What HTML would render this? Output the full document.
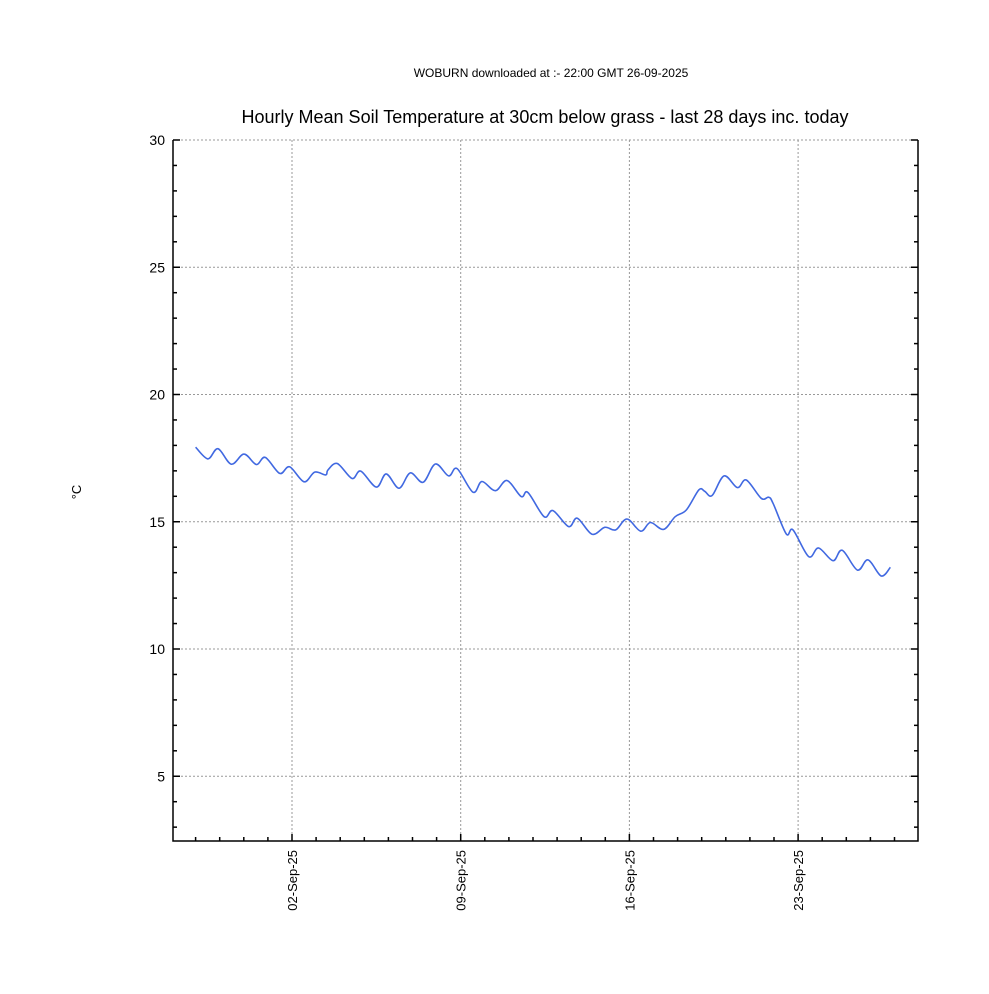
<!DOCTYPE html>
<html><head><meta charset="utf-8"><style>
body{margin:0;background:#fff;width:989px;height:989px;overflow:hidden}
svg{font-family:"Liberation Sans",sans-serif}
</style></head><body>
<svg id="chart" width="989" height="989" viewBox="0 0 989 989">
<text x="551" y="77" font-size="12" text-anchor="middle">WOBURN downloaded at :- 22:00 GMT 26-09-2025</text>
<text x="545" y="123" font-size="18" text-anchor="middle">Hourly Mean Soil Temperature at 30cm below grass - last 28 days inc. today</text>
<text x="0" y="0" font-size="13" text-anchor="middle" transform="translate(81,492) rotate(-90)">°C</text>
<g id="grid"></g>
<g id="axes"></g>
<path id="line" fill="none" stroke="#4169e1" stroke-width="1.6"/>
</svg>
<script>
// day offsets from 29-Aug-25 00:00
const times=[0,0.51,0.93,1.48,2.01,2.52,2.89,3.49,3.90,4.50,4.94,5.40,5.49,5.88,6.49,6.85,7.50,7.91,8.44,8.91,9.44,9.95,10.50,10.85,11.51,11.88,12.44,12.92,13.51,13.79,14.46,14.83,15.48,15.84,16.45,16.98,17.43,17.90,18.47,18.87,19.42,19.90,20.36,20.88,21.12,21.43,21.93,22.48,22.85,23.47,23.78,23.96,24.51,24.79,25.44,25.85,26.45,26.83,27.46,27.90,28.45,28.83];
const temps=[17.93,17.47,17.87,17.26,17.66,17.25,17.53,16.90,17.16,16.57,16.95,16.84,17.03,17.29,16.70,16.99,16.36,16.88,16.32,16.92,16.55,17.27,16.80,17.09,16.16,16.58,16.22,16.62,15.99,16.15,15.20,15.44,14.81,15.14,14.51,14.78,14.68,15.11,14.63,14.97,14.70,15.20,15.46,16.25,16.20,16.03,16.80,16.34,16.64,15.92,15.96,15.73,14.52,14.68,13.63,13.97,13.47,13.88,13.10,13.50,12.87,13.21];
const yTicks=[5,10,15,20,25,30];
const xTickDays=[4,11,18,25];
const xTickLabels=["02-Sep-25","09-Sep-25","16-Sep-25","23-Sep-25"];

const L=173,R=918,T=140,B=841;
const X=d=>292+(d-4)*24.1;
const Y=v=>140+(30-v)*25.45;
const NS="http://www.w3.org/2000/svg";
function mk(tag,attrs,parent){const e=document.createElementNS(NS,tag);for(const k in attrs)e.setAttribute(k,attrs[k]);parent.appendChild(e);return e;}
const grid=document.getElementById('grid'),axes=document.getElementById('axes');
yTicks.forEach(v=>{
  const g=mk('line',{x1:L,x2:R,y1:Y(v),y2:Y(v),stroke:'#999','stroke-dasharray':'2,2','stroke-width':1},grid);
  
  
  const t=mk('text',{x:L-8,y:Y(v)+5,'font-size':14,'text-anchor':'end'},axes);
  t.textContent=v;
  
  
});
xTickDays.forEach((d,i)=>{
  const g=mk('line',{x1:X(d),x2:X(d),y1:T,y2:B,stroke:'#999','stroke-dasharray':'2,2','stroke-width':1},grid);
  
  
  const t=mk('text',{x:0,y:0,'font-size':13,'text-anchor':'end',transform:`translate(${X(d)+5},${B+9}) rotate(-90)`},axes);
  t.textContent=xTickLabels[i];
  
  
});
// minor ticks
for(let v=3;v<=30;v++){
  const len=(v%5===0)?7:4;
  mk('line',{x1:L,x2:L+len,y1:Y(v),y2:Y(v),stroke:'#000','stroke-width':1.5},axes);
  mk('line',{x1:R,x2:R-len,y1:Y(v),y2:Y(v),stroke:'#000','stroke-width':1.5},axes);
}
for(let d=0;d<=29;d++){
  const len=((d-4)%7===0)?7:4;
  mk('line',{x1:X(d),x2:X(d),y1:B,y2:B-len,stroke:'#000','stroke-width':1.5},axes);
}
const fr=mk('path',{d:`M${L},${T}V${B}H${R}V${T}`,fill:'none',stroke:'#000','stroke-width':1.5},axes);


// catmull-rom smoothing
const pts=times.map((t,i)=>[X(t),Y(temps[i])]);
let d=`M${pts[0][0]},${pts[0][1]}`;
for(let i=0;i<pts.length-1;i++){
  const p0=pts[Math.max(0,i-1)],p1=pts[i],p2=pts[i+1],p3=pts[Math.min(pts.length-1,i+2)];
  const c1=[p1[0]+(p2[0]-p0[0])/6,p1[1]+(p2[1]-p0[1])/6];
  const c2=[p2[0]-(p3[0]-p1[0])/6,p2[1]-(p3[1]-p1[1])/6];
  d+=`C${c1[0].toFixed(1)},${c1[1].toFixed(1)} ${c2[0].toFixed(1)},${c2[1].toFixed(1)} ${p2[0].toFixed(1)},${p2[1].toFixed(1)}`;
}
document.getElementById('line').setAttribute('d',d);
</script>
</body></html>
